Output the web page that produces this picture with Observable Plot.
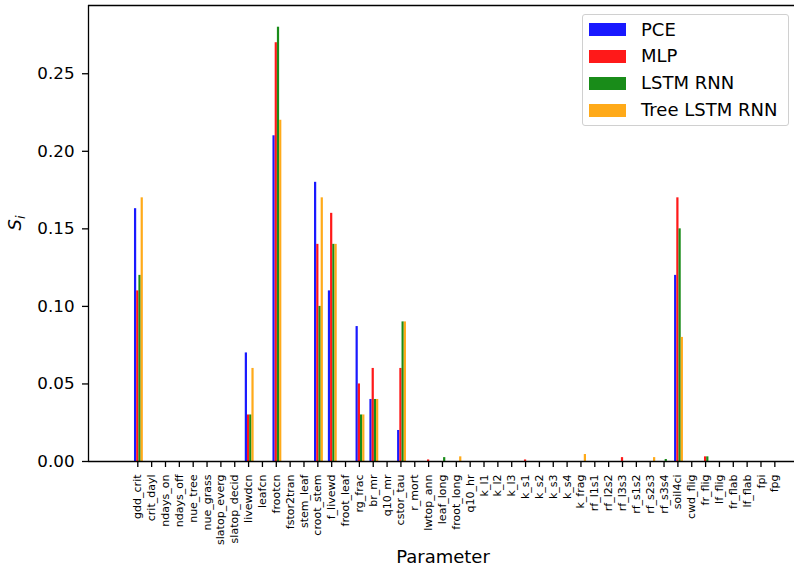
<!DOCTYPE html>
<html>
<head>
<meta charset="utf-8">
<script src="https://cdn.jsdelivr.net/npm/d3@7"></script>
<script src="https://cdn.jsdelivr.net/npm/@observablehq/plot@0.6"></script>
<style>
  html, body { margin: 0; padding: 0; background: #fff; }
  #wrap { position: relative; width: 794px; height: 568px; overflow: hidden; font-family: "DejaVu Sans", sans-serif; }
  #legend { position: absolute; left: 582px; top: 14px; width: 207px; height: 112px; border: 1px solid #d0d0d0; border-radius: 3px; background: rgba(255,255,255,0.8); box-sizing: border-box; }
  .sw { position: absolute; left: 6px; width: 37px; height: 13px; }
  .lb { position: absolute; left: 58px; font-size: 18px; color: #000; white-space: nowrap; line-height: 18px; }
</style>
</head>
<body>
<div id="wrap"></div>
<script>
// ---- data ----
const params = ["gdd_crit","crit_dayl","ndays_on","ndays_off","nue_tree","nue_grass","slatop_everg","slatop_decid","livewdcn","leafcn",
  "frootcn","fstor2tran","stem_leaf","croot_stem","f_livewd","froot_leaf","rg_frac","br_mr","q10_mr","cstor_tau",
  "r_mort","lwtop_ann","leaf_long","froot_long","q10_hr","k_l1","k_l2","k_l3","k_s1","k_s2",
  "k_s3","k_s4","k_frag","rf_l1s1","rf_l2s2","rf_l3s3","rf_s1s2","rf_s2s3","rf_s3s4","soil4ci",
  "cwd_flig","fr_flig","lf_flig","fr_flab","lf_flab","fpi","fpg"];
const series = ["PCE", "MLP", "LSTM RNN", "Tree LSTM RNN"];
const colors = ["rgb(25,25,255)", "rgb(255,25,25)", "rgb(25,140,25)", "rgb(255,170,25)"];
const pce = [0.163, 0, 0, 0, 0, 0, 0, 0, 0.07, 0,
  0.21, 0, 0, 0.18, 0.11, 0, 0.087, 0.04, 0, 0.02,
  0, 0, 0, 0, 0, 0, 0, 0, 0, 0,
  0, 0, 0, 0, 0, 0, 0, 0, 0, 0.12,
  0, 0, 0, 0, 0, 0, 0];
const mlp = [0.11, 0, 0, 0, 0, 0, 0, 0, 0.03, 0,
  0.27, 0, 0, 0.14, 0.16, 0, 0.05, 0.06, 0, 0.06,
  0, 0.001, 0, 0, 0, 0, 0, 0, 0.001, 0,
  0, 0, 0, 0, 0, 0.0025, 0, 0, 0, 0.17,
  0, 0.003, 0, 0, 0, 0, 0];
const lstm = [0.12, 0, 0, 0, 0, 0, 0, 0, 0.03, 0,
  0.28, 0, 0, 0.10, 0.14, 0, 0.03, 0.04, 0, 0.09,
  0, 0, 0.0025, 0, 0, 0, 0, 0, 0, 0,
  0, 0, 0, 0, 0, 0, 0, 0, 0.0013, 0.15,
  0, 0.003, 0, 0, 0, 0, 0];
const tree = [0.17, 0, 0, 0, 0, 0, 0, 0, 0.06, 0,
  0.22, 0, 0, 0.17, 0.14, 0, 0.03, 0.04, 0, 0.09,
  0, 0, 0, 0.003, 0, 0, 0, 0, 0, 0,
  0, 0, 0.0045, 0, 0, 0, 0, 0.0025, 0, 0.08,
  0, 0, 0, 0, 0, 0, 0];
const yTicks = [0, 0.05, 0.10, 0.15, 0.20, 0.25];

// ---- build table ----
const valuesBySeries = [pce, mlp, lstm, tree];
const barW = 0.16;
const rows = [];
valuesBySeries.forEach((vals, k) => {
  vals.forEach((v, i) => {
    rows.push({i, k, series: series[k], value: v,
      x1: i + (k - 1.5) * barW, x2: i + (k - 0.5) * barW});
  });
});

const xDomain = [-3.56, 47.42];
const yDomain = [0, 0.294];

const chart = Plot.plot({
  width: 794,
  height: 568,
  marginLeft: 88,
  marginRight: 0,
  marginTop: 5,
  marginBottom: 107,
  style: {fontFamily: "DejaVu Sans", color: "#000", background: "#fff", overflow: "visible"},
  x: {type: "linear", domain: xDomain},
  y: {domain: yDomain},
  color: {domain: series, range: colors},
  marks: [
    Plot.rectY(rows, {x1: "x1", x2: "x2", y: "value", fill: "series"}),
    Plot.ruleY([0], {stroke: "#000", strokeWidth: 1.3}),
    Plot.ruleY([yDomain[1]], {stroke: "#000", strokeWidth: 1.3}),
    Plot.ruleX([xDomain[0]], {stroke: "#000", strokeWidth: 1.3}),
    Plot.axisX({ticks: d3.range(params.length), tickFormat: i => params[i], tickRotate: -90,
      fontSize: 11, tickSize: 6, tickPadding: 7, strokeWidth: 1.3, strokeOpacity: 1, label: null}),
    Plot.axisY({ticks: yTicks, tickFormat: d3.format(".2f"), fontSize: 16.7,
      tickSize: 6, tickPadding: 8, strokeWidth: 1.3, strokeOpacity: 1, label: null})
  ]
});

const wrap = document.getElementById("wrap");
wrap.appendChild(chart);

const svg = d3.select(chart);
svg.append("text")
  .attr("x", 443).attr("y", 563)
  .attr("text-anchor", "middle")
  .attr("font-size", 18)
  .attr("fill", "#000")
  .text("Parameter");
const yl = svg.append("text")
  .attr("transform", "translate(21,223) rotate(-90)")
  .attr("text-anchor", "middle")
  .attr("font-size", 18)
  .attr("font-style", "italic")
  .attr("fill", "#000");
yl.append("tspan").text("S");
yl.append("tspan").attr("font-size", 12.6).attr("dy", 4).text("i");

// ---- legend ----
const legend = document.createElement("div");
legend.id = "legend";
const rowCenters = [14.5, 41.3, 68.3, 95.3];
series.forEach((s, k) => {
  const sw = document.createElement("div");
  sw.className = "sw";
  sw.style.top = (rowCenters[k] - 6.5) + "px";
  sw.style.background = colors[k];
  const lb = document.createElement("div");
  lb.className = "lb";
  lb.style.top = (rowCenters[k] - 9) + "px";
  lb.textContent = s;
  legend.appendChild(sw);
  legend.appendChild(lb);
});
wrap.appendChild(legend);
</script>
</body>
</html>
